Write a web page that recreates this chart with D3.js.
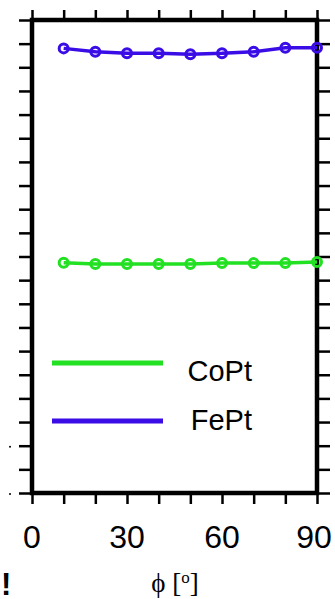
<!DOCTYPE html>
<html>
<head>
<meta charset="utf-8">
<script src="https://cdn.jsdelivr.net/npm/d3@7/dist/d3.min.js"></script>
<style>
  html, body { margin: 0; padding: 0; background: #fff; }
  svg { display: block; }
</style>
</head>
<body>
<svg id="chart" width="335" height="599"></svg>
<script>
// ---- data ----
const phi = [10, 20, 30, 40, 50, 60, 70, 80, 90];
const fePt = [18.80, 18.66, 18.59, 18.59, 18.55, 18.59, 18.66, 18.83, 18.83];
const coPt = [9.74, 9.68, 9.68, 9.68, 9.68, 9.72, 9.72, 9.72, 9.77];
const seriesNames = ["CoPt", "FePt"];
const seriesColors = ["#22e022", "#3a0ce6"];
const xTickValues = [0, 10, 20, 30, 40, 50, 60, 70, 80, 90];
const xTickLabels = [0, 30, 60, 90];
const yTickValues = d3.range(0, 21, 1);

(function () {
// ---- layout ----
const svg = d3.select("#chart");
const pL = 32, pR = 317, pT = 20, pB = 493;
const x = d3.scaleLinear().domain([0, 90]).range([pL, pR]);
const y = d3.scaleLinear().domain([0, 20]).range([pB, pT]);

// axes ticks (outside)
const tickLen = 13;
const gAx = svg.append("g");
function styleAxis(g) {
  g.select(".domain").remove();
  g.selectAll(".tick line").attr("stroke", "#000").attr("stroke-width", 2.5);
  g.selectAll(".tick text").remove();
}
gAx.append("g").attr("transform", `translate(0,${pB})`)
  .call(d3.axisBottom(x).tickValues(xTickValues).tickSize(tickLen - 2)).call(styleAxis);
gAx.append("g").attr("transform", `translate(0,${pT})`)
  .call(d3.axisTop(x).tickValues(xTickValues).tickSize(tickLen - 3)).call(styleAxis);
gAx.append("g").attr("transform", `translate(${pL},0)`)
  .call(d3.axisLeft(y).tickValues(yTickValues).tickSize(tickLen)).call(styleAxis);
gAx.append("g").attr("transform", `translate(${pR},0)`)
  .call(d3.axisRight(y).tickValues(yTickValues).tickSize(tickLen)).call(styleAxis);

// frame
svg.append("rect")
  .attr("x", pL).attr("y", pT)
  .attr("width", pR - pL).attr("height", pB - pT)
  .attr("fill", "none").attr("stroke", "#000").attr("stroke-width", 4.5);

// x tick labels
svg.append("g").selectAll("text").data(xTickLabels).join("text")
  .attr("x", d => x(d) + (d === 90 ? -3 : 0))
  .attr("y", 548)
  .attr("text-anchor", "middle")
  .attr("font-family", "Liberation Sans, Arial, sans-serif")
  .attr("font-size", 32)
  .attr("fill", "#000")
  .text(d => d);

// x axis title
const xt = svg.append("text")
  .attr("x", 175).attr("y", 592)
  .attr("text-anchor", "middle")
  .attr("font-family", "Liberation Serif, Times New Roman, serif")
  .attr("font-size", 27)
  .attr("fill", "#000");
xt.append("tspan").text("ϕ [");
xt.append("tspan").attr("font-size", 17).attr("dy", -9).text("o");
xt.append("tspan").attr("dy", 9).text("]");

// stray marks at left edge (clipped labels in original)
svg.append("g").selectAll("circle").data([2, 0]).join("circle")
  .attr("cx", 10).attr("cy", d => y(d) + 1).attr("r", 1).attr("fill", "#000");
svg.append("text")
  .attr("x", 1).attr("y", 595)
  .attr("text-anchor", "start")
  .attr("font-family", "Liberation Sans, Arial, sans-serif")
  .attr("font-weight", "bold")
  .attr("font-size", 31)
  .attr("fill", "#000")
  .text("!");

// series
const series = [coPt, fePt];
const line = d3.line().x((d, i) => x(phi[i])).y(d => y(d));
series.forEach((vals, si) => {
  const g = svg.append("g");
  g.append("path").datum(vals)
    .attr("d", line)
    .attr("fill", "none")
    .attr("stroke", seriesColors[si])
    .attr("stroke-width", 3.5);
  g.selectAll("circle").data(vals).join("circle")
    .attr("cx", (d, i) => x(phi[i]))
    .attr("cy", d => y(d))
    .attr("r", 4.5)
    .attr("fill", "none")
    .attr("stroke", seriesColors[si])
    .attr("stroke-width", 3);
});

// legend
const legendY = [363, 421];
const textY = [381, 430];
const leg = svg.append("g");
seriesNames.forEach((name, i) => {
  leg.append("line")
    .attr("x1", 52).attr("x2", 163)
    .attr("y1", legendY[i]).attr("y2", legendY[i])
    .attr("stroke", seriesColors[i]).attr("stroke-width", 5);
  leg.append("text")
    .attr("x", 252).attr("y", textY[i])
    .attr("text-anchor", "end")
    .attr("font-family", "Liberation Sans, Arial, sans-serif")
    .attr("font-size", 29)
    .attr("fill", "#000")
    .text(name);
});
})();
</script>
</body>
</html>
